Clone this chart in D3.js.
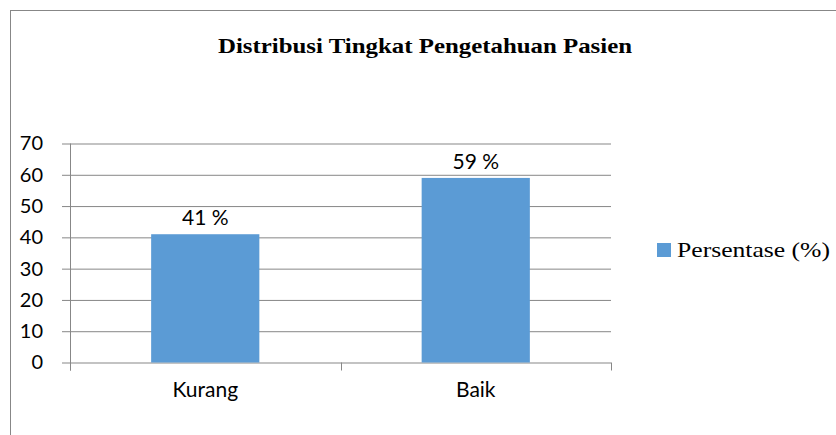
<!DOCTYPE html>
<html>
<head>
<meta charset="utf-8">
<script src="https://cdn.jsdelivr.net/npm/d3@7"></script>
<style>
  body { margin: 0; background: #fff; }
  svg text { fill: #000; }
</style>
</head>
<body>
<div id="chart"></div>
<script>
// 資料
const chartTitle = 'Distribusi Tingkat Pengetahuan Pasien'
const seriesName = 'Persentase (%)'
const categories = ['Kurang', 'Baik']
const values = [41, 59]
const valueLabels = ['41 %', '59 %']
const yTicks = [0, 10, 20, 30, 40, 50, 60, 70]

const width = 836, height = 435
const plotLeft = 70, plotRight = 611, plotTop = 143.5, plotBottom = 362.5
const barColor = '#5b9bd5', lineColor = '#878787'
const sansFont = 'Lato, "Open Sans", sans-serif'
const serifFont = '"Liberation Serif", "DejaVu Serif", serif'

const svg = d3.select('#chart')
  .append('svg')
  .attr('width', width)
  .attr('height', height)

// 外框
svg.append('rect')
  .attr('x', 10.5).attr('y', 10.5)
  .attr('width', 900).attr('height', 600)
  .attr('fill', 'none')
  .attr('stroke', lineColor)

// 標題
svg.append('text')
  .attr('x', 425).attr('y', 53)
  .attr('text-anchor', 'middle')
  .attr('textLength', 414)
  .attr('lengthAdjust', 'spacingAndGlyphs')
  .style('font-family', serifFont)
  .style('font-weight', 'bold')
  .style('font-size', '21px')
  .text(chartTitle)

// scale
const x = d3.scaleBand()
  .domain(categories)
  .range([plotLeft, plotRight])
  .padding(0)

const y = d3.scaleLinear()
  .domain([0, 70])
  .range([plotBottom, plotTop])

// y 軸 + 格線
const yAxis = d3.axisLeft(y)
  .tickValues(yTicks)
  .tickSize(plotRight - 62)
  .tickPadding(19)

const yAxisGroup = svg.append('g')
  .attr('transform', `translate(${plotRight},0)`)
  .call(yAxis)
yAxisGroup.select('.domain').remove()
yAxisGroup.selectAll('line').attr('stroke', lineColor)
yAxisGroup.selectAll('text')
  .style('font-family', sansFont)
  .style('font-size', '20px')

// 直線 y 軸
svg.append('line')
  .attr('x1', plotLeft + 0.5).attr('x2', plotLeft + 0.5)
  .attr('y1', plotTop).attr('y2', plotBottom + 8)
  .attr('stroke', lineColor)

// x 軸刻度 (分類邊界)
const bounds = categories.map(c => x(c)).concat([plotRight])
svg.selectAll('.xtick')
  .data(bounds)
  .join('line')
  .attr('class', 'xtick')
  .attr('x1', d => Math.round(d) + 0.5).attr('x2', d => Math.round(d) + 0.5)
  .attr('y1', plotBottom).attr('y2', plotBottom + 8)
  .attr('stroke', lineColor)

// x 軸標籤
const xAxisGroup = svg.append('g')
  .attr('transform', `translate(0,${plotBottom})`)
  .call(d3.axisBottom(x).tickSize(0).tickPadding(20))
xAxisGroup.select('.domain').remove()
xAxisGroup.selectAll('text')
  .style('font-family', sansFont)
  .style('font-size', '21px')

// 長條
const barW = x.bandwidth() * 0.4
svg.selectAll('.bar')
  .data(values)
  .join('rect')
  .attr('class', 'bar')
  .attr('x', (d, i) => x(categories[i]) + (x.bandwidth() - barW) / 2)
  .attr('y', d => y(d))
  .attr('width', barW)
  .attr('height', d => y(0) - y(d))
  .attr('fill', barColor)

// 資料標籤
svg.selectAll('.vlabel')
  .data(values)
  .join('text')
  .attr('class', 'vlabel')
  .attr('x', (d, i) => x(categories[i]) + x.bandwidth() / 2)
  .attr('y', d => y(d) - 9)
  .attr('text-anchor', 'middle')
  .style('font-family', sansFont)
  .style('font-size', '21px')
  .text((d, i) => valueLabels[i])

// 圖例
svg.append('rect')
  .attr('x', 657).attr('y', 243)
  .attr('width', 14).attr('height', 14)
  .attr('fill', barColor)
svg.append('text')
  .attr('x', 677).attr('y', 257)
  .attr('textLength', 153)
  .attr('lengthAdjust', 'spacingAndGlyphs')
  .style('font-family', serifFont)
  .style('font-size', '21px')
  .text(seriesName)
</script>
</body>
</html>
